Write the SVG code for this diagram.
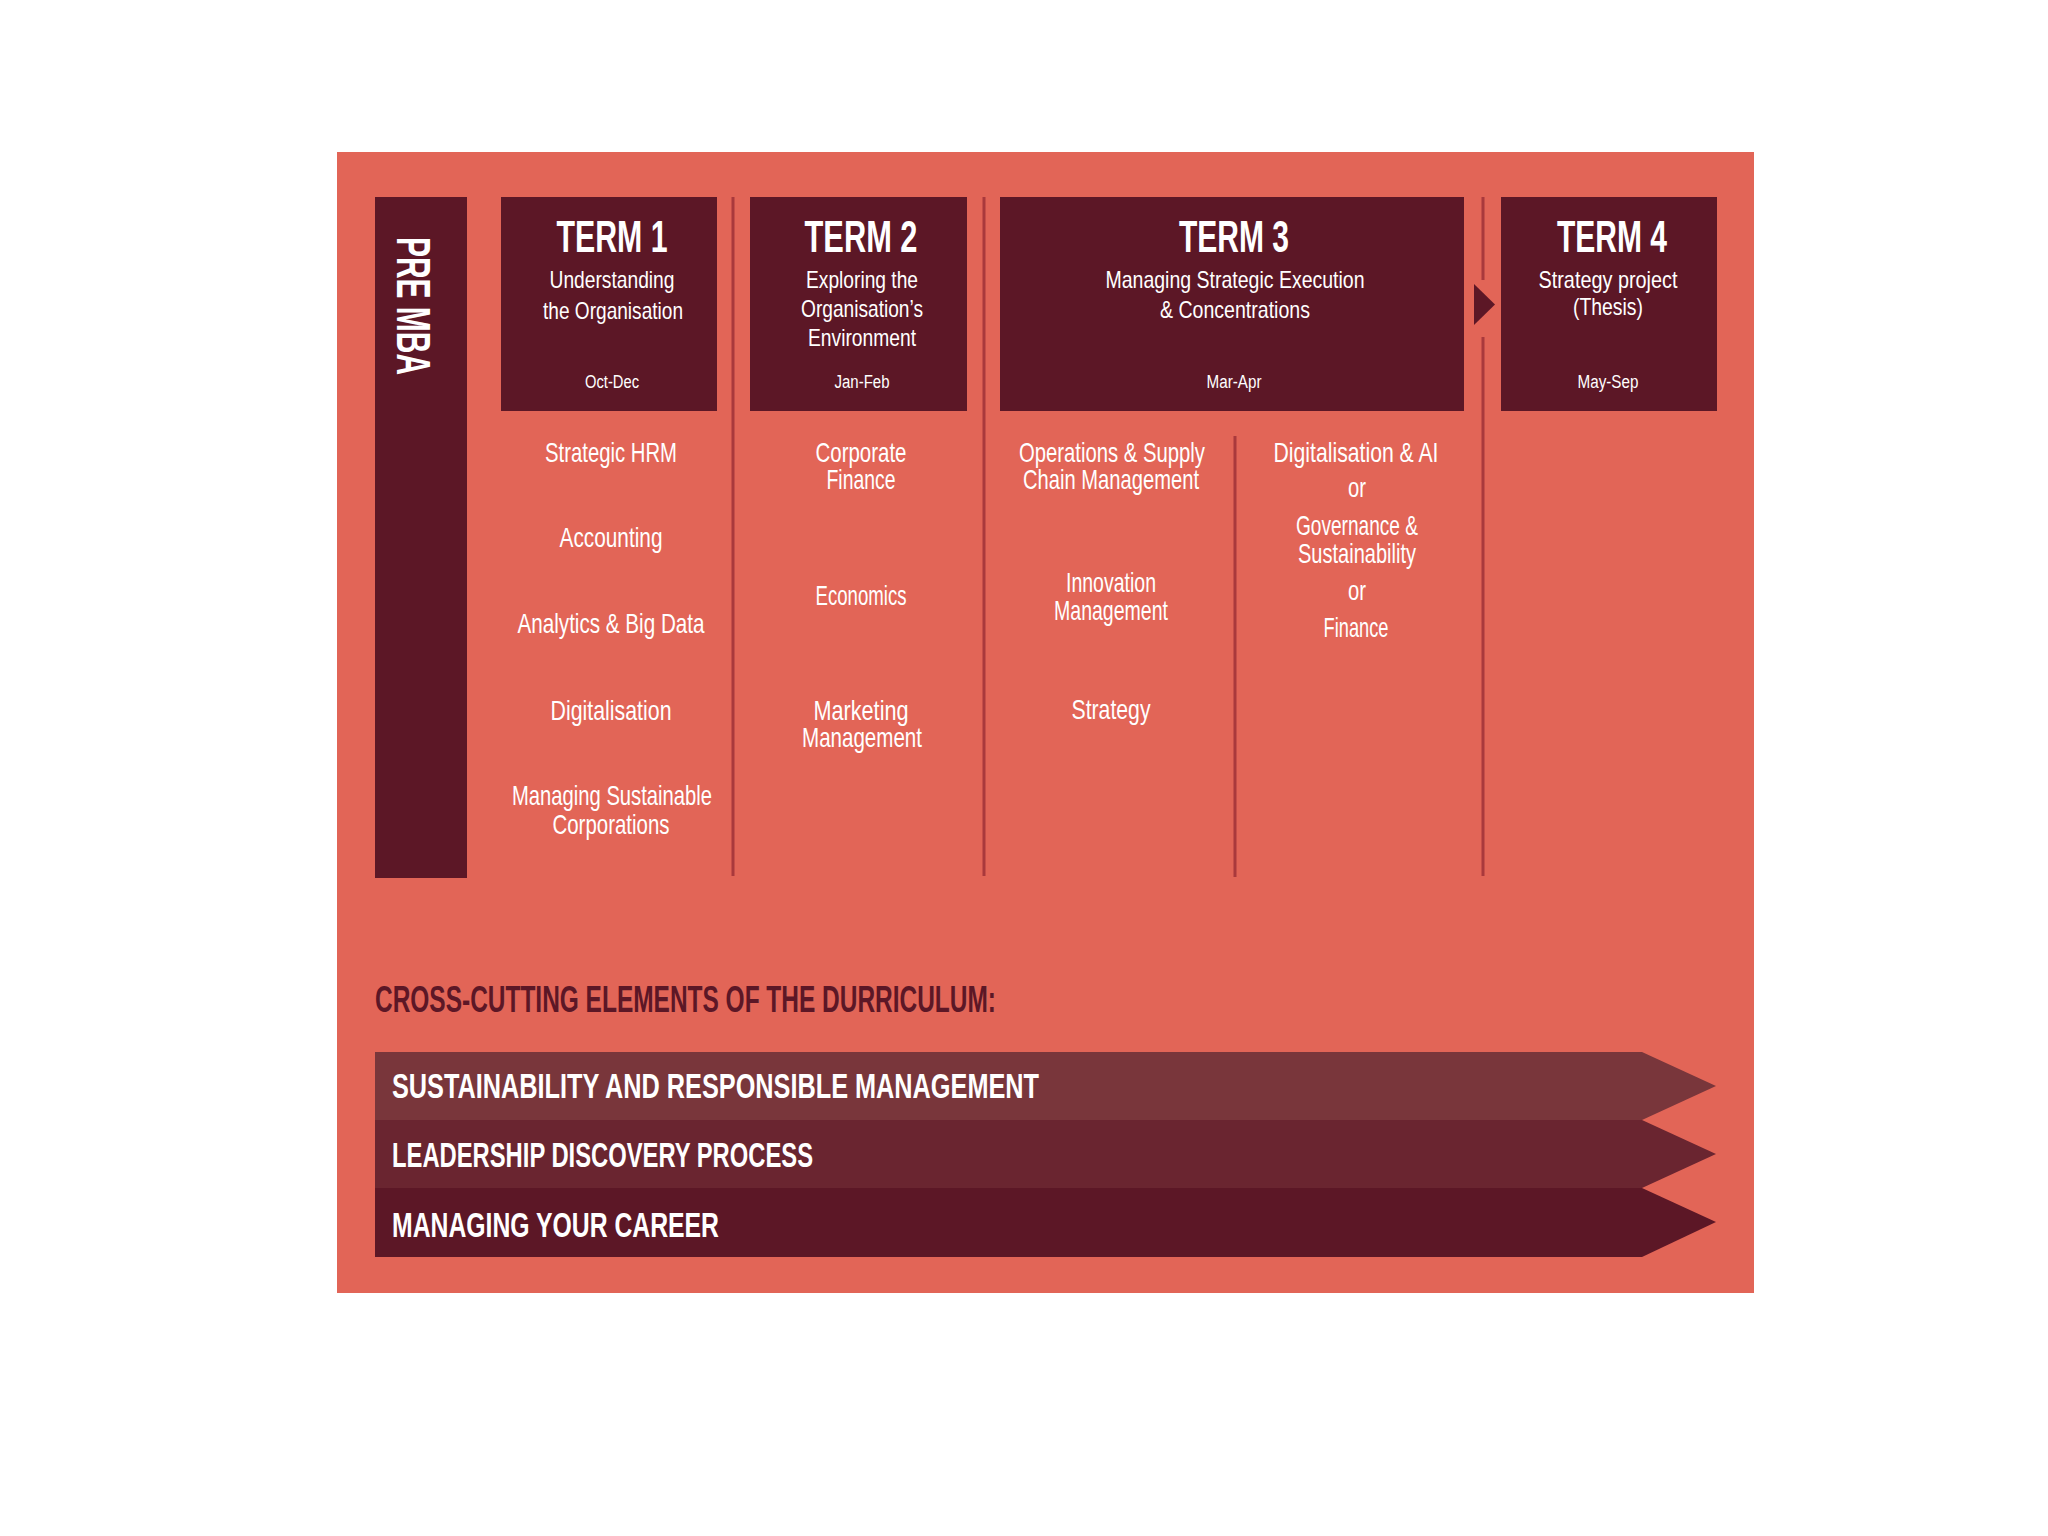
<svg xmlns="http://www.w3.org/2000/svg" width="2048" height="1536" viewBox="0 0 2048 1536">
<style>
  .bg { fill: #e26557; }
  .box { fill: #5c1726; }
  .div { stroke: #a9393c; stroke-width: 3; fill: none; }
  text { font-family: "Liberation Sans", Arial, sans-serif; fill: #ffffff; text-anchor: middle; }
  .term { font-size: 45px; font-weight: bold; }
  .sub { font-size: 24px; }
  .date { font-size: 18px; }
  .course { font-size: 28px; }
  .pre { font-size: 49px; font-weight: bold; text-anchor: start; }
  .cross { font-size: 37px; font-weight: bold; fill: #5c1726; text-anchor: start; }
  .band { font-size: 35px; font-weight: bold; text-anchor: start; }
</style>
<rect x="0" y="0" width="2048" height="1536" fill="#ffffff"/>
<rect class="bg" x="337" y="152" width="1417" height="1141"/>

<g id="connectors">
  <line class="div" x1="733" y1="197" x2="733" y2="876"/>
  <line class="div" x1="984" y1="197" x2="984" y2="876"/>
  <line class="div" x1="1235" y1="436" x2="1235" y2="877"/>
  <line class="div" x1="1483" y1="197" x2="1483" y2="280"/>
  <line class="div" x1="1483" y1="337" x2="1483" y2="876"/>
  <polygon class="box" points="1474,284 1495,304.5 1474,325"/>
</g>

<g id="pre-mba">
  <rect class="box" x="375" y="197" width="92" height="681"/>
  <text class="pre" transform="translate(397,237) rotate(90)" textLength="138" lengthAdjust="spacingAndGlyphs">PRE MBA</text>
</g>

<g id="term1">
  <rect class="box" x="501" y="197" width="216" height="214"/>
  <text class="term" x="612" y="252" textLength="111" lengthAdjust="spacingAndGlyphs">TERM 1</text>
  <text class="sub" x="612" y="288" textLength="125" lengthAdjust="spacingAndGlyphs">Understanding</text>
  <text class="sub" x="613" y="319" textLength="140" lengthAdjust="spacingAndGlyphs">the Organisation</text>
  <text class="date" x="612" y="388" textLength="54" lengthAdjust="spacingAndGlyphs">Oct-Dec</text>
</g>

<g id="term2">
  <rect class="box" x="750" y="197" width="217" height="214"/>
  <text class="term" x="861" y="252" textLength="113" lengthAdjust="spacingAndGlyphs">TERM 2</text>
  <text class="sub" x="862" y="288" textLength="112" lengthAdjust="spacingAndGlyphs">Exploring the</text>
  <text class="sub" x="862" y="317" textLength="122" lengthAdjust="spacingAndGlyphs">Organisation’s</text>
  <text class="sub" x="862" y="346" textLength="108" lengthAdjust="spacingAndGlyphs">Environment</text>
  <text class="date" x="862" y="388" textLength="55" lengthAdjust="spacingAndGlyphs">Jan-Feb</text>
</g>

<g id="term3">
  <rect class="box" x="1000" y="197" width="464" height="214"/>
  <text class="term" x="1234" y="252" textLength="110" lengthAdjust="spacingAndGlyphs">TERM 3</text>
  <text class="sub" x="1235" y="288" textLength="259" lengthAdjust="spacingAndGlyphs">Managing Strategic Execution</text>
  <text class="sub" x="1235" y="318" textLength="150" lengthAdjust="spacingAndGlyphs">&amp; Concentrations</text>
  <text class="date" x="1234" y="388" textLength="55" lengthAdjust="spacingAndGlyphs">Mar-Apr</text>
</g>

<g id="term4">
  <rect class="box" x="1501" y="197" width="216" height="214"/>
  <text class="term" x="1612" y="252" textLength="110" lengthAdjust="spacingAndGlyphs">TERM 4</text>
  <text class="sub" x="1608" y="288" textLength="139" lengthAdjust="spacingAndGlyphs">Strategy project</text>
  <text class="sub" x="1608" y="315" textLength="70" lengthAdjust="spacingAndGlyphs">(Thesis)</text>
  <text class="date" x="1608" y="388" textLength="61" lengthAdjust="spacingAndGlyphs">May-Sep</text>
</g>

<g id="term1-courses">
  <text class="course" x="611" y="462" textLength="132" lengthAdjust="spacingAndGlyphs">Strategic HRM</text>
  <text class="course" x="611" y="547" textLength="103" lengthAdjust="spacingAndGlyphs">Accounting</text>
  <text class="course" x="611" y="633" textLength="187" lengthAdjust="spacingAndGlyphs">Analytics &amp; Big Data</text>
  <text class="course" x="611" y="720" textLength="121" lengthAdjust="spacingAndGlyphs">Digitalisation</text>
  <text class="course" x="612" y="805" textLength="200" lengthAdjust="spacingAndGlyphs">Managing Sustainable</text>
  <text class="course" x="611" y="834" textLength="117" lengthAdjust="spacingAndGlyphs">Corporations</text>
</g>

<g id="term2-courses">
  <text class="course" x="861" y="462" textLength="91" lengthAdjust="spacingAndGlyphs">Corporate</text>
  <text class="course" x="861" y="489" textLength="69" lengthAdjust="spacingAndGlyphs">Finance</text>
  <text class="course" x="861" y="605" textLength="91" lengthAdjust="spacingAndGlyphs">Economics</text>
  <text class="course" x="861" y="720" textLength="95" lengthAdjust="spacingAndGlyphs">Marketing</text>
  <text class="course" x="862" y="747" textLength="120" lengthAdjust="spacingAndGlyphs">Management</text>
</g>

<g id="term3-courses">
  <text class="course" x="1112" y="462" textLength="186" lengthAdjust="spacingAndGlyphs">Operations &amp; Supply</text>
  <text class="course" x="1111" y="489" textLength="176" lengthAdjust="spacingAndGlyphs">Chain Management</text>
  <text class="course" x="1111" y="592" textLength="90" lengthAdjust="spacingAndGlyphs">Innovation</text>
  <text class="course" x="1111" y="620" textLength="114" lengthAdjust="spacingAndGlyphs">Management</text>
  <text class="course" x="1111" y="719" textLength="79" lengthAdjust="spacingAndGlyphs">Strategy</text>
</g>

<g id="term3-concentrations">
  <text class="course" x="1356" y="462" textLength="165" lengthAdjust="spacingAndGlyphs">Digitalisation &amp; AI</text>
  <text class="course" x="1357" y="497" textLength="18" lengthAdjust="spacingAndGlyphs">or</text>
  <text class="course" x="1357" y="535" textLength="122" lengthAdjust="spacingAndGlyphs">Governance &amp;</text>
  <text class="course" x="1357" y="563" textLength="118" lengthAdjust="spacingAndGlyphs">Sustainability</text>
  <text class="course" x="1357" y="600" textLength="18" lengthAdjust="spacingAndGlyphs">or</text>
  <text class="course" x="1356" y="637" textLength="65" lengthAdjust="spacingAndGlyphs">Finance</text>
</g>

<g id="cross-cutting">
  <text class="cross" x="375" y="1012" textLength="621" lengthAdjust="spacingAndGlyphs">CROSS-CUTTING ELEMENTS OF THE DURRICULUM:</text>
</g>

<g id="band-sustainability">
  <polygon points="375,1052 1642,1052 1716,1086 1642,1120 375,1120" fill="#79363b"/>
  <text class="band" x="392" y="1098" textLength="647" lengthAdjust="spacingAndGlyphs">SUSTAINABILITY AND RESPONSIBLE MANAGEMENT</text>
</g>
<g id="band-leadership">
  <polygon points="375,1120 1642,1120 1716,1154 1642,1188 375,1188" fill="#6a2530"/>
  <text class="band" x="392" y="1167" textLength="421" lengthAdjust="spacingAndGlyphs">LEADERSHIP DISCOVERY PROCESS</text>
</g>
<g id="band-career">
  <polygon points="375,1188 1642,1188 1716,1222 1642,1257 375,1257" fill="#5c1726"/>
  <text class="band" x="392" y="1237" textLength="327" lengthAdjust="spacingAndGlyphs">MANAGING YOUR CAREER</text>
</g>
</svg>
